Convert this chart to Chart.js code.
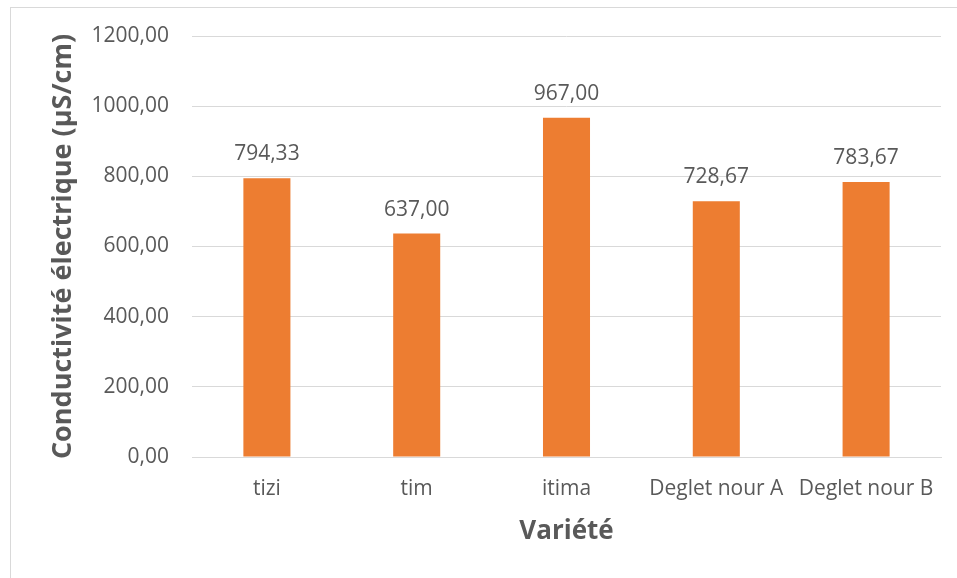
<!DOCTYPE html>
<html>
<head>
<meta charset="utf-8">
<script src="https://cdn.jsdelivr.net/npm/chart.js@4.4.1/dist/chart.umd.min.js"></script>
<style>
  html, body { margin: 0; padding: 0; background: #ffffff; }
  #frame {
    position: absolute; left: 10px; top: 7px;
    width: 970px; height: 600px;
    border: 1px solid #d9d9d9;
  }
  #wrap { position: absolute; left: 0; top: 0; width: 957px; height: 578px; }
</style>
</head>
<body>
<div id="frame"></div>
<div id="wrap"><canvas id="chart" width="957" height="578"></canvas></div>
<script>
// data
var varietes = ['tizi', 'tim', 'itima', 'Deglet nour A', 'Deglet nour B'];
var conductivite = [794.33, 637.00, 967.00, 728.67, 783.67];
var yTicks = [0, 200, 400, 600, 800, 1000, 1200];

var textColor = '#595959';
var gridColor = '#d9d9d9';
var barColor = '#ed7d31';

function fmt(v) {
  return v.toFixed(2).replace('.', ',');
}

// draws the value above each bar
var barLabels = {
  id: 'barLabels',
  afterDatasetsDraw: function (chart) {
    var ctx = chart.ctx;
    var meta = chart.getDatasetMeta(0);
    ctx.save();
    ctx.font = "21px 'Open Sans', sans-serif";
    ctx.fillStyle = textColor;
    ctx.textAlign = 'center';
    ctx.textBaseline = 'alphabetic';
    meta.data.forEach(function (bar, i) {
      ctx.fillText(fmt(chart.data.datasets[0].data[i]), bar.x, bar.y - 18);
    });
    ctx.restore();
  }
};

Chart.defaults.font.family = "'Open Sans', sans-serif";
Chart.defaults.color = textColor;

var ctx = document.getElementById('chart');
var chart = new Chart(ctx, {
  type: 'bar',
  data: {
    labels: varietes,
    datasets: [{
      data: conductivite,
      backgroundColor: barColor,
      borderWidth: 0,
      barPercentage: 0.314,
      categoryPercentage: 1
    }]
  },
  options: {
    responsive: false,
    animation: false,
    events: [],
    layout: { padding: { left: 0, top: 36, right: 16, bottom: 0 } },
    plugins: {
      legend: { display: false },
      tooltip: { enabled: false }
    },
    scales: {
      x: {
        grid: { display: false, drawTicks: false },
        border: { display: true, color: gridColor, width: 1 },
        ticks: { font: { size: 21 }, color: textColor, padding: 19, maxRotation: 0 },
        title: {
          display: true, text: 'Variété', color: textColor,
          font: { size: 26, weight: 'bold' }, padding: { top: 0, bottom: 31 }
        },
        afterFit: function (scale) { scale.height = 121; }
      },
      y: {
        min: 0, max: 1200,
        afterBuildTicks: function (scale) {
          scale.ticks = yTicks.map(function (v) { return { value: v }; });
        },
        grid: { color: gridColor, lineWidth: 1, drawTicks: false },
        border: { display: false },
        ticks: {
          font: { size: 21 }, color: textColor, padding: 23,
          callback: function (v) { return fmt(v); }
        },
        title: {
          display: true, text: 'Conductivité électrique (µS/cm)', color: textColor,
          font: { size: 27, weight: 'bold' }, padding: { top: 47, bottom: 0 }
        },
        afterFit: function (scale) { scale.width = 192; }
      }
    }
  },
  plugins: [barLabels]
});
</script>
</body>
</html>
